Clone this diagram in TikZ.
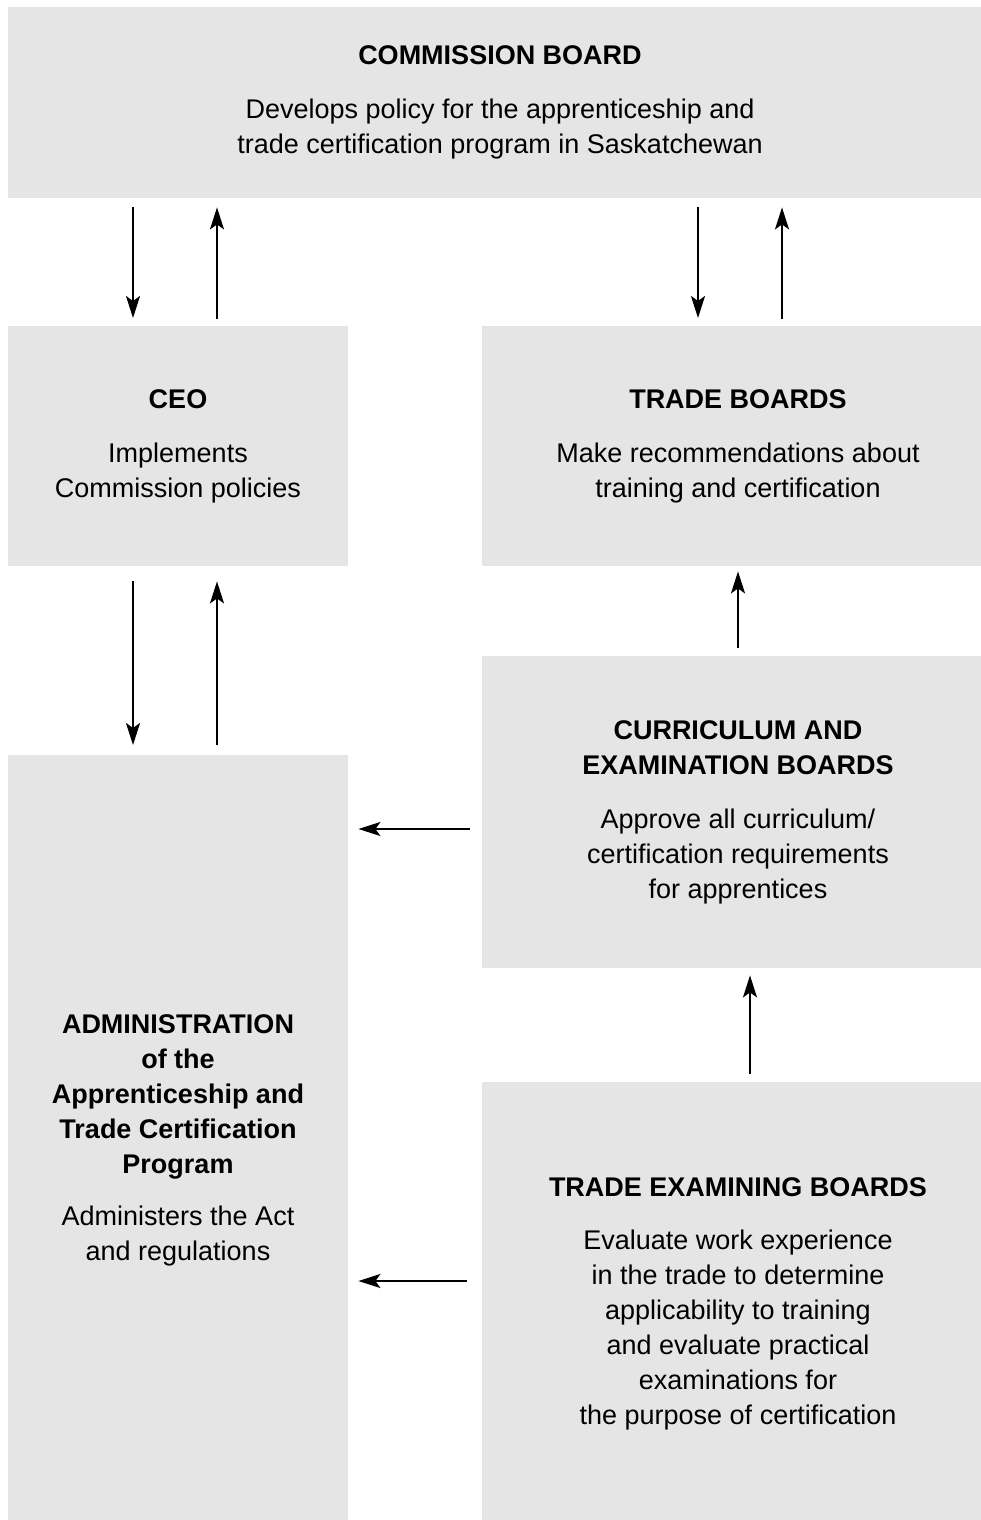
\documentclass[tikz,border=0pt]{standalone}
\usepackage{fontspec}
\setmainfont{Liberation Sans}
\usetikzlibrary{arrows.meta,calc}
\definecolor{boxgray}{HTML}{E5E5E5}
\tikzset{
  box/.style={fill=boxgray, draw=none, inner sep=0pt, anchor=north west},
  txt/.style={align=center, inner sep=0pt, anchor=north, font=\fontsize{27}{35}\selectfont},
  ttl/.style={txt, font=\fontsize{27}{35}\selectfont\bfseries},
  arr/.style={line width=2.2pt, -{Stealth[length=22pt,width=14pt,inset=5pt]}},
}
\begin{document}
\begin{tikzpicture}[x=1pt,y=-1pt]
\useasboundingbox (0,0) rectangle (981,1520);
% boxes
\node[box, minimum width=973pt, minimum height=191pt] (comm) at (8,7) {};
\node[box, minimum width=340pt, minimum height=240pt] (ceo) at (8,326) {};
\node[box, minimum width=499pt, minimum height=240pt] (tb) at (482,326) {};
\node[box, minimum width=499pt, minimum height=312pt] (ceb) at (482,656) {};
\node[box, minimum width=340pt, minimum height=765pt] (adm) at (8,755) {};
\node[box, minimum width=499pt, minimum height=438pt] (teb) at (482,1082) {};
% texts
\node[ttl] (commT) at (500,45) {COMMISSION BOARD};
\node[txt] (commB) at (500,99) {Develops policy for the apprenticeship and\\trade certification program in Saskatchewan};
\node[ttl] (ceoT) at (178,389) {CEO};
\node[txt] (ceoB) at (178,443) {Implements\\Commission policies};
\node[ttl] (tbT) at (738,389) {TRADE BOARDS};
\node[txt] (tbB) at (738,443) {Make recommendations about\\training and certification};
\node[ttl] (cebT) at (738,720) {CURRICULUM AND\\EXAMINATION BOARDS};
\node[txt] (cebB) at (738,809) {Approve all curriculum/\\certification requirements\\for apprentices};
\node[ttl] (admT) at (178,1014) {ADMINISTRATION\\of the\\Apprenticeship and\\Trade Certification\\Program};
\node[txt] (admB) at (178,1206) {Administers the Act\\and regulations};
\node[ttl] (tebT) at (738,1177) {TRADE EXAMINING BOARDS};
\node[txt] (tebB) at (738,1230) {Evaluate work experience\\in the trade to determine\\applicability to training\\and evaluate practical\\examinations for\\the purpose of certification};
% arrows
\coordinate (a1) at (133,0);
\coordinate (a2) at (217,0);
\coordinate (a3) at (698,0);
\coordinate (a4) at (782,0);
\coordinate (a5) at (738,0);
\coordinate (a6) at (750,0);
\coordinate (h1) at (0,829);
\coordinate (h2) at (0,1281);
\draw[arr, shorten <=9pt, shorten >=8pt] (comm.south -| a1) -- (ceo.north -| a1);
\draw[arr, shorten <=7pt, shorten >=9pt] (ceo.north -| a2) -- (comm.south -| a2);
\draw[arr, shorten <=9pt, shorten >=8pt] (comm.south -| a3) -- (tb.north -| a3);
\draw[arr, shorten <=7pt, shorten >=9pt] (tb.north -| a4) -- (comm.south -| a4);
\draw[arr, shorten <=15pt, shorten >=10pt] (ceo.south -| a1) -- (adm.north -| a1);
\draw[arr, shorten <=10pt, shorten >=15pt] (adm.north -| a2) -- (ceo.south -| a2);
\draw[arr, shorten <=8pt, shorten >=5pt] (ceb.north -| a5) -- (tb.south -| a5);
\draw[arr, shorten <=8pt, shorten >=7pt] (teb.north -| a6) -- (ceb.south -| a6);
\draw[arr, shorten <=12pt, shorten >=10pt] (ceb.west |- h1) -- (adm.east |- h1);
\draw[arr, shorten <=15pt, shorten >=10pt] (teb.west |- h2) -- (adm.east |- h2);
\end{tikzpicture}
\end{document}
